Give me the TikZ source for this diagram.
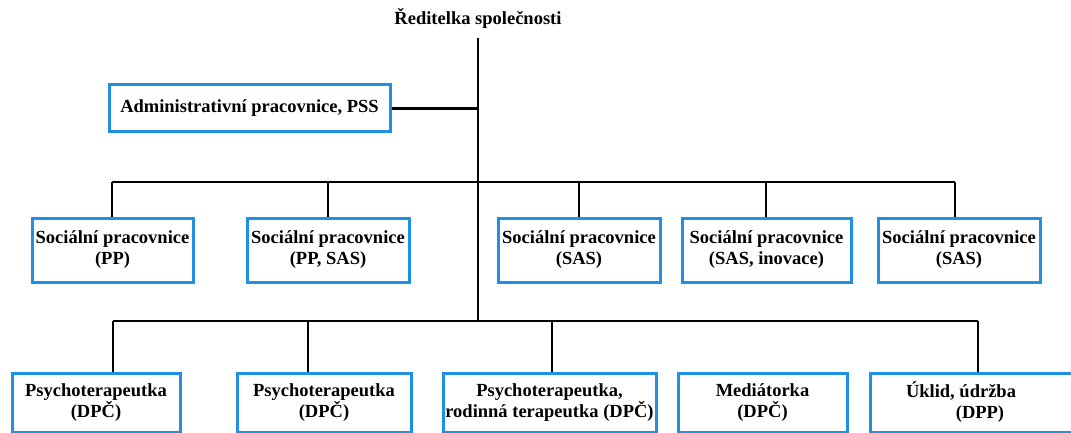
\documentclass[tikz,border=0pt]{standalone}
\usepackage{fontspec}
\setmainfont{Liberation Serif}
\usepackage{tikz}

\definecolor{boxblue}{RGB}{30,144,230}

\begin{document}
\begin{tikzpicture}[x=1pt,y=-1pt,
		box/.style={draw=boxblue,line width=3pt,fill=white,inner sep=0pt,align=center,
			font=\fontsize{18.5}{21}\selectfont\bfseries},
		topbox/.style={box,minimum height=64pt},
		botbox/.style={box,minimum height=59pt},
		link/.style={line width=2.4pt}]
		\useasboundingbox[fill=white] (0,0) rectangle (1071,433);
		% head and admin
		\node[font=\fontsize{18.5}{21}\selectfont\bfseries] (ceo) at (478,18) {Ředitelka společnosti};
		\node[box,minimum width=281pt,minimum height=47pt] (admin) at (249.5,108.5) {Administrativní pracovnice, PSS};
		% social workers
		\node[topbox,minimum width=161pt] (sp1) at (112.5,250) {Sociální pracovnice\\(PP)};
		\node[topbox,minimum width=162pt] (sp2) at (328,250) {Sociální pracovnice\\(PP, SAS)};
		\node[topbox,minimum width=162pt] (sp3) at (579,250) {Sociální pracovnice\\(SAS)};
		\node[topbox,minimum width=169pt] (sp4) at (766.5,250) {Sociální pracovnice\\(SAS, inovace)};
		\node[topbox,minimum width=162pt] (sp5) at (959,250) {Sociální pracovnice\\(SAS)};
		% others
		\node[botbox,minimum width=168pt] (ps1) at (96,402.5) {Psychoterapeutka\\(DPČ)};
		\node[botbox,minimum width=174pt] (ps2) at (324,402.5) {Psychoterapeutka\\(DPČ)};
		\node[botbox,minimum width=213pt] (ps3) at (549.5,402.5) {Psychoterapeutka,\\rodinná terapeutka (DPČ)};
		\node[botbox,minimum width=169pt] (med) at (762.5,402.5) {Mediátorka\\(DPČ)};
		\node[botbox,minimum width=220pt] (ukl) at (980,402.5) {Úklid, údržba\hspace*{38pt}\\(DPP)};
		% bars
		\coordinate (trunk) at (478,321);
		\coordinate (t1) at (112,182);
		\coordinate (t2) at (328,182);
		\coordinate (t3) at (579,182);
		\coordinate (t4) at (766,182);
		\coordinate (t5) at (955,182);
		\coordinate (b1) at (113,321);
		\coordinate (b2) at (308,321);
		\coordinate (b3) at (552,321);
		\coordinate (b5) at (978,321);
		\draw[link] ([yshift=-6pt]ceo.south) -- (trunk);
		\draw[link] (admin.east) -- (admin.east -| trunk);
		\draw[link] (t1) -- (t5);
		\draw[link] (b1) -- (b5);
		\foreach \c/\n in {t1/sp1,t2/sp2,t3/sp3,t4/sp4,t5/sp5,b1/ps1,b2/ps2,b3/ps3,b5/ukl}
			\draw[link] (\c) -- (\c |- \n.north);
	\end{tikzpicture}
\end{document}
